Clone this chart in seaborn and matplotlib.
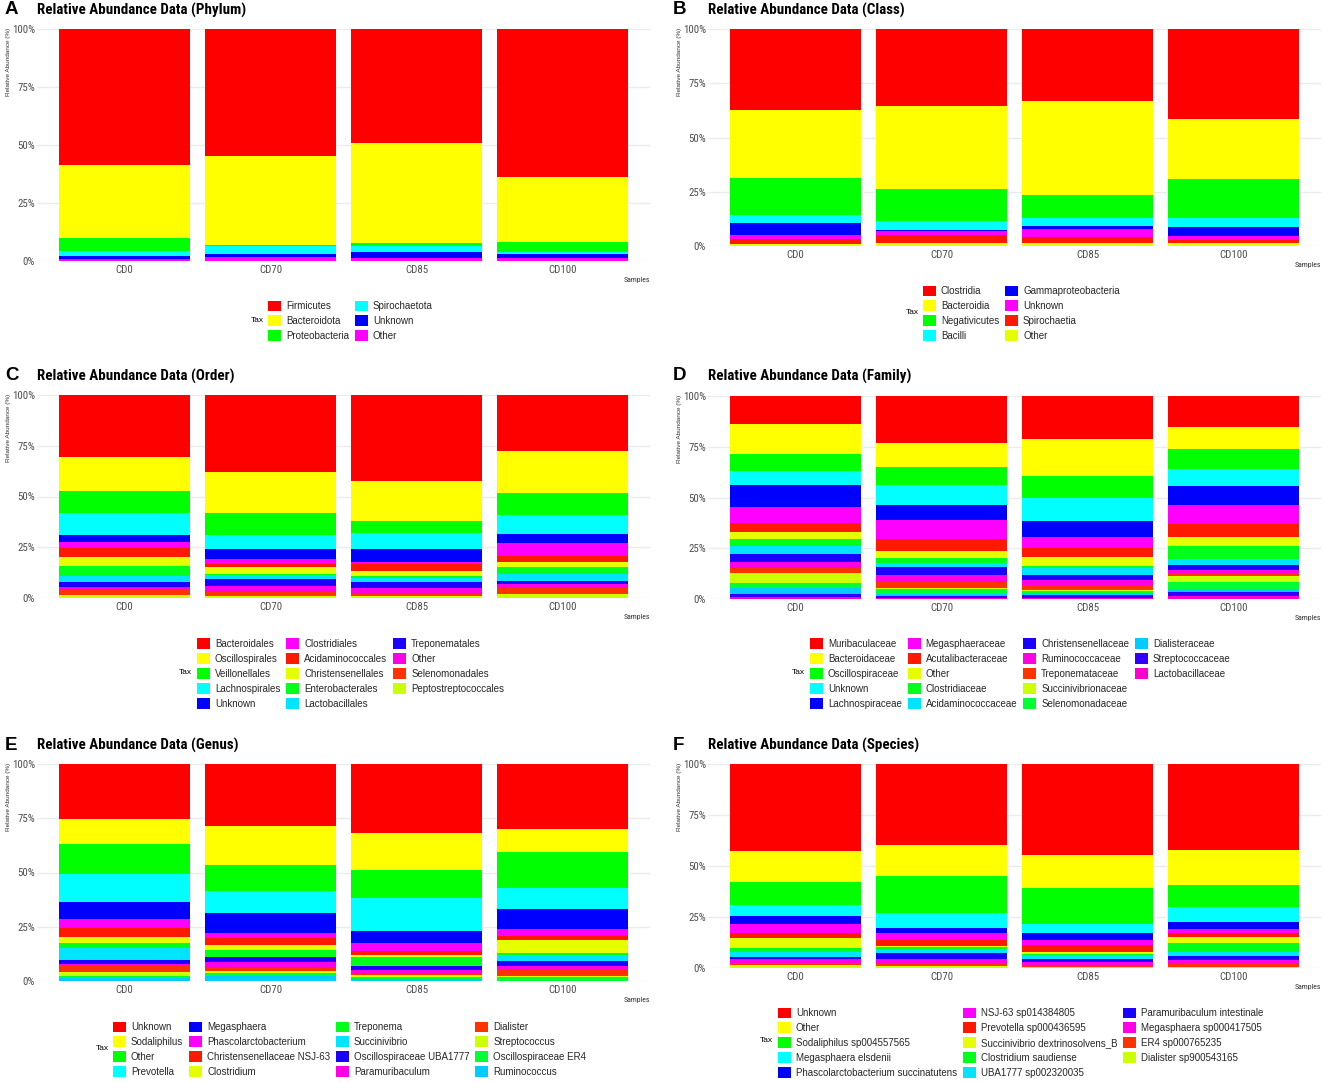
import os
import colorsys
import numpy as np
import pandas as pd
import matplotlib
matplotlib.use("Agg")
import matplotlib.pyplot as plt
from matplotlib.patches import Patch
from matplotlib.ticker import PercentFormatter
from matplotlib import font_manager
from matplotlib.font_manager import FontProperties
import seaborn as sns

# ---------------- data ----------------
samples = ["CD0", "CD70", "CD85", "CD100"]

phylum_taxa = ["Firmicutes", "Bacteroidota", "Proteobacteria", "Spirochaetota", "Unknown", "Other"]
phylum_cd0 = [58.8, 31.3, 5.4, 2.3, 1.4, 0.8]
phylum_cd70 = [54.7, 38.2, 0.8, 3.3, 1.4, 1.6]
phylum_cd85 = [49.2, 43.0, 1.2, 2.9, 2.5, 1.2]
phylum_cd100 = [63.7, 28.0, 4.3, 1.1, 1.6, 1.3]

class_taxa = ["Clostridia", "Bacteroidia", "Negativicutes", "Bacilli",
              "Gammaproteobacteria", "Unknown", "Spirochaetia", "Other"]
class_cd0 = [37.4, 31.3, 16.9, 3.8, 5.4, 2.0, 2.1, 1.1]
class_cd70 = [35.4, 38.4, 14.7, 4.0, 0.4, 2.2, 3.4, 1.5]
class_cd85 = [33.3, 43.1, 10.9, 3.7, 1.0, 3.9, 2.7, 1.4]
class_cd100 = [41.3, 28.0, 17.7, 4.4, 3.8, 1.9, 1.5, 1.4]

order_taxa = ["Bacteroidales", "Oscillospirales", "Veillonellales", "Lachnospirales", "Unknown",
              "Clostridiales", "Acidaminococcales", "Christensenellales", "Enterobacterales",
              "Lactobacillales", "Treponematales", "Other", "Selenomonadales", "Peptostreptococcales"]
order_cd0 = [30.6, 16.9, 10.4, 11.0, 3.4, 3.3, 4.3, 4.2, 5.3, 2.9, 2.1, 1.8, 2.2, 1.6]
order_cd70 = [37.8, 20.3, 10.8, 7.0, 5.0, 2.2, 1.8, 3.5, 0.5, 1.8, 3.6, 2.8, 1.8, 1.1]
order_cd85 = [42.2, 19.8, 6.2, 7.7, 6.3, 1.1, 3.6, 2.1, 1.0, 2.0, 3.1, 2.9, 1.2, 0.8]
order_cd100 = [27.5, 20.6, 11.1, 9.4, 4.2, 6.4, 3.1, 2.2, 3.7, 3.3, 1.5, 2.3, 2.7, 2.0]

family_taxa = ["Muribaculaceae", "Bacteroidaceae", "Oscillospiraceae", "Unknown", "Lachnospiraceae",
               "Megasphaeraceae", "Acutalibacteraceae", "Other", "Clostridiaceae", "Acidaminococcaceae",
               "Christensenellaceae", "Ruminococcaceae", "Treponemataceae", "Succinivibrionaceae",
               "Selenomonadaceae", "Dialisteraceae", "Streptococcaceae", "Lactobacillaceae"]
family_cd0 = [13.6, 15.1, 8.2, 6.8, 11.1, 7.8, 4.2, 3.5, 3.4, 4.1, 4.1, 3.0, 2.3, 4.9, 2.6, 2.8, 1.5, 1.0]
family_cd70 = [23.2, 11.9, 8.7, 10.1, 7.2, 9.3, 5.8, 3.8, 2.1, 2.1, 4.0, 3.3, 3.2, 0.4, 2.3, 1.0, 0.9, 0.7]
family_cd85 = [21.2, 18.4, 10.6, 11.2, 7.9, 5.7, 4.5, 4.1, 1.3, 3.4, 2.3, 2.3, 2.7, 0.6, 1.0, 0.8, 1.3, 0.7]
family_cd100 = [15.3, 10.8, 10.0, 8.1, 9.3, 9.4, 6.4, 4.4, 6.6, 3.0, 2.3, 1.8, 1.1, 3.3, 3.3, 1.6, 1.7, 1.6]

genus_taxa = ["Unknown", "Sodaliphilus", "Other", "Prevotella", "Megasphaera", "Phascolarctobacterium",
              "Christensenellaceae NSJ-63", "Clostridium", "Treponema", "Succinivibrio",
              "Oscillospiraceae UBA1777", "Paramuribaculum", "Dialister", "Streptococcus",
              "Oscillospiraceae ER4", "Ruminococcus"]
genus_cd0 = [25.5, 11.2, 13.9, 13.2, 7.6, 4.1, 4.0, 3.2, 2.2, 5.2, 2.1, 0.6, 3.1, 1.7, 0.9, 1.5]
genus_cd70 = [28.4, 18.1, 11.9, 10.3, 9.1, 2.3, 3.5, 2.0, 3.2, 0.3, 2.0, 2.9, 1.3, 0.9, 1.7, 2.1]
genus_cd85 = [31.7, 17.2, 12.7, 15.4, 5.6, 3.6, 2.0, 0.9, 3.5, 0.5, 1.8, 1.6, 0.9, 0.9, 0.8, 0.9]
genus_cd100 = [30.0, 10.7, 16.4, 9.7, 9.4, 2.9, 2.0, 5.8, 1.2, 2.8, 2.0, 2.0, 3.0, 0.4, 1.5, 0.2]

species_taxa = ["Unknown", "Other", "Sodaliphilus sp004557565", "Megasphaera elsdenii",
                "Phascolarctobacterium succinatutens", "NSJ-63 sp014384805", "Prevotella sp000436595",
                "Succinivibrio dextrinosolvens_B", "Clostridium saudiense", "UBA1777 sp002320035",
                "Paramuribaculum intestinale", "Megasphaera sp000417505", "ER4 sp000765235",
                "Dialister sp900543165"]
species_cd0 = [42.8, 14.9, 11.2, 5.7, 3.9, 4.3, 2.4, 5.1, 1.8, 2.5, 1.1, 1.8, 0.9, 1.6]
species_cd70 = [39.5, 15.4, 18.1, 7.3, 2.3, 3.8, 2.8, 0.5, 1.0, 1.9, 3.0, 1.9, 1.5, 1.0]
species_cd85 = [44.6, 16.4, 17.2, 4.6, 3.6, 2.1, 3.8, 0.7, 0.4, 2.3, 1.5, 1.3, 1.0, 0.5]
species_cd100 = [42.1, 17.2, 10.9, 7.3, 3.2, 2.1, 2.1, 2.8, 4.4, 2.0, 2.0, 2.1, 1.1, 0.7]

# ---------------- style ----------------
sns.set_theme(style="white")
plt.rcParams["font.family"] = ["Liberation Sans", "DejaVu Sans"]

W, H = 1325, 1082


def pick_narrow(bold):
    """Find an installed narrow / condensed font file (regular or bold)."""
    bad = ("semibold", "extra", "ultra", "light", "thin", "black", "medium",
           "italic", "oblique", "heavy", "demi")
    cands = []
    for f in font_manager.fontManager.ttflist:
        fn = os.path.basename(f.fname).lower()
        nm = f.name.lower()
        st = str(f.stretch).lower()
        narrow = ("narrow" in nm or "condensed" in nm or "narrow" in fn or
                  "condensed" in fn or st in ("condensed", "semi-condensed"))
        if not narrow:
            continue
        if any(b in fn for b in bad):
            continue
        isb = ("bold" in fn) or (f.weight in ("bold", 700))
        if isb != bold:
            continue
        cands.append(f)
    prefs = ["liberation", "arimo", "roboto", "noto sans", "dejavu", "open sans", "lato", "inter"]
    for pr in prefs:
        for f in cands:
            if pr in f.name.lower():
                return f.fname
    return cands[0].fname if cands else None


NARROW_B = pick_narrow(True)
NARROW_R = pick_narrow(False)


def narrow_props(size, bold):
    path = NARROW_B if bold else NARROW_R
    if path:
        return FontProperties(fname=path, size=size)
    return FontProperties(family=["Liberation Sans", "DejaVu Sans"],
                          weight="bold" if bold else "normal", size=size * 0.86)


def palette(n):
    cols = []
    for i in range(n):
        h = ((i % 6) * 60 + (i // 6) * 6) / 360.0
        cols.append(colorsys.hsv_to_rgb(h, 1.0, 1.0))
    return cols


def fx(px):
    return px / W


def fy(py):
    return 1 - py / H


fig = plt.figure(figsize=(W / 100, H / 100), dpi=100)
fig.patch.set_facecolor("white")

panels = [
    dict(letter="A", title="Relative Abundance Data (Phylum)", taxa=phylum_taxa,
         rows=[phylum_cd0, phylum_cd70, phylum_cd85, phylum_cd100],
         left=37, top=29, bottom=261, title_y=10, letter_x=5,
         leg=(268, 305), tax=(257, 320), ncol=2, pad=0),
    dict(letter="B", title="Relative Abundance Data (Class)", taxa=class_taxa,
         rows=[class_cd0, class_cd70, class_cd85, class_cd100],
         left=708, top=29, bottom=246, title_y=10, letter_x=673,
         leg=(923, 290), tax=(912, 313), ncol=2, pad=0),
    dict(letter="C", title="Relative Abundance Data (Order)", taxa=order_taxa,
         rows=[order_cd0, order_cd70, order_cd85, order_cd100],
         left=37, top=395, bottom=598, title_y=376, letter_x=5,
         leg=(197, 643), tax=(185, 672), ncol=3, pad=0),
    dict(letter="D", title="Relative Abundance Data (Family)", taxa=family_taxa,
         rows=[family_cd0, family_cd70, family_cd85, family_cd100],
         left=708, top=396, bottom=599, title_y=376, letter_x=673,
         leg=(810, 643), tax=(798, 672), ncol=4, pad=2),
    dict(letter="E", title="Relative Abundance Data (Genus)", taxa=genus_taxa,
         rows=[genus_cd0, genus_cd70, genus_cd85, genus_cd100],
         left=37, top=764, bottom=981, title_y=745, letter_x=5,
         leg=(113, 1026), tax=(102, 1048), ncol=4, pad=0),
    dict(letter="F", title="Relative Abundance Data (Species)", taxa=species_taxa,
         rows=[species_cd0, species_cd70, species_cd85, species_cd100],
         left=708, top=764, bottom=968, title_y=745, letter_x=673,
         leg=(778, 1012), tax=(766, 1041), ncol=3, pad=0),
]

AX_W = 613
LEG_FS = 7.0

for p in panels:
    taxa = p["taxa"]
    cols = palette(len(taxa))
    ax = fig.add_axes([fx(p["left"]), fy(p["bottom"]), fx(AX_W), (p["bottom"] - p["top"]) / H])
    df = pd.DataFrame(p["rows"], index=samples, columns=taxa)
    df = df.div(df.sum(axis=1), axis=0) * 100
    cum = df.iloc[:, ::-1].cumsum(axis=1)
    for i, t in enumerate(taxa):
        sub = pd.DataFrame({"Sample": samples, "cum": cum[t].values})
        sns.barplot(data=sub, x="Sample", y="cum", order=samples, color=cols[i],
                    saturation=1, width=0.9, errorbar=None, edgecolor="none",
                    linewidth=0, ax=ax)
    ax.set_xlim(-0.6, 3.6)
    ax.set_ylim(0, 100)
    ax.set_yticks([0, 25, 50, 75, 100])
    ax.yaxis.set_major_formatter(PercentFormatter(xmax=100, decimals=0))
    ax.set_axisbelow(True)
    ax.grid(axis="y", color="#EBEBEB", linewidth=1.0)
    ax.grid(axis="x", visible=False)
    for s in ax.spines.values():
        s.set_visible(False)
    ax.set_xlabel("")
    ax.set_ylabel("")
    ax.tick_params(axis="both", length=0, colors="#4D4D4D")
    ax.tick_params(axis="y", pad=1.5)
    ax.tick_params(axis="x", pad=3)
    for lab in ax.get_xticklabels() + ax.get_yticklabels():
        lab.set_fontproperties(narrow_props(7.8, False))
    ax.set_facecolor("white")

    # titles
    fig.text(fx(p["letter_x"]), fy(p["title_y"]), p["letter"], fontsize=13.5,
             fontweight="bold", ha="left", va="center", color="black")
    fig.text(fx(p["left"]), fy(p["title_y"]), p["title"], ha="left", va="center",
             color="black", fontproperties=narrow_props(10.8, True))
    # axis titles
    fig.text(fx(p["left"] - 28), fy(p["top"] - 1), "Relative Abundance (%)", rotation=90,
             fontsize=4.6, ha="center", va="top", color="#333333")
    fig.text(fx(p["left"] + AX_W), fy(p["bottom"] + 19), "Samples", ha="right",
             va="center", color="#333333", fontproperties=narrow_props(5.6, False))

    # legend
    handles = [Patch(facecolor=c, edgecolor="none") for c in cols]
    labels = list(taxa)
    for _ in range(p["pad"]):
        handles.append(Patch(facecolor="none", edgecolor="none"))
        labels.append("")
    kx, ky = p["leg"]
    fig.legend(handles, labels, loc="upper left",
               bbox_to_anchor=(fx(kx), fy(ky - 4.5)), ncol=p["ncol"], frameon=False,
               borderpad=0, borderaxespad=0, handlelength=1.35, handleheight=1.35,
               labelspacing=0.42, handletextpad=0.5, columnspacing=0.6,
               fontsize=LEG_FS)
    tx, ty = p["tax"]
    fig.text(fx(tx), fy(ty), "Tax", fontsize=6, ha="center", va="center", color="black")

fig.savefig("out.png", dpi=100, facecolor="white")
